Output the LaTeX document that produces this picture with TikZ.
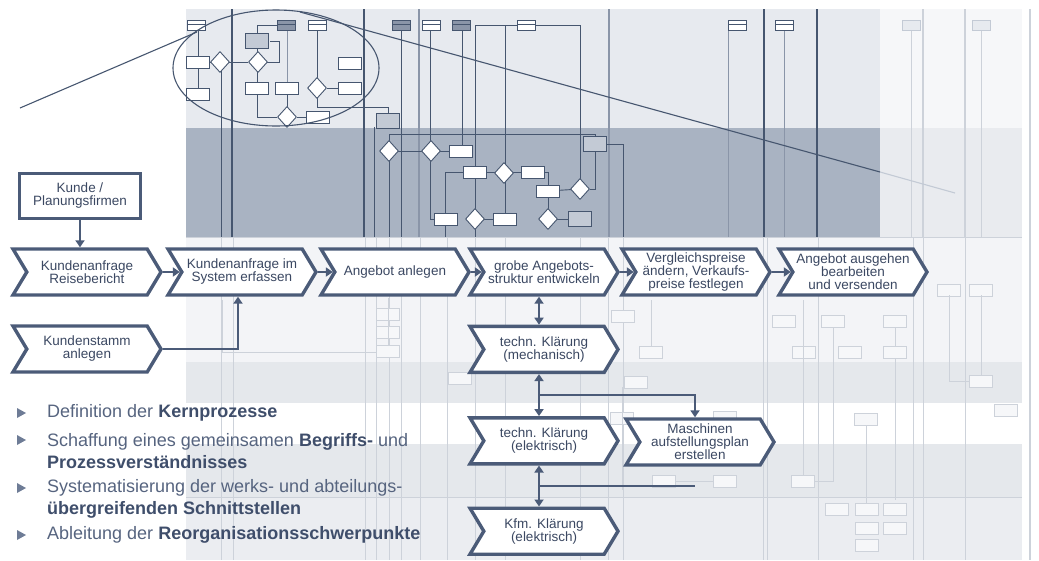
\documentclass[tikz,border=0pt]{standalone}
\usepackage{fontspec}
\setmainfont{Liberation Sans}
\usetikzlibrary{shapes.symbols,shapes.geometric,arrows.meta,positioning,calc}

\definecolor{chevline}{HTML}{4B5B78}
\definecolor{chevtext}{HTML}{3B4862}
\definecolor{bultext}{HTML}{56647F}
\definecolor{bulbold}{HTML}{3F4E6B}
\definecolor{bultri}{HTML}{6E7C96}
\definecolor{bgtop}{HTML}{E7EAEF}
\definecolor{bgdark}{HTML}{A9B3C2}
\definecolor{bgfar}{HTML}{F6F7F9}
\definecolor{bgfartwo}{HTML}{E9EBEF}
\definecolor{bglow}{HTML}{F3F4F7}
\definecolor{bgmid}{HTML}{E5E8EC}
\definecolor{bgpale}{HTML}{EBEDF1}
\definecolor{flowdark}{HTML}{46566F}
\definecolor{flowgray}{HTML}{8A95A8}
\definecolor{faint}{HTML}{CDD2DA}
\definecolor{boxgray}{HTML}{C3CAD5}

\newcommand{\chevfont}{\fontsize{13.5}{13}\selectfont}
\newcommand{\bulfont}{\fontsize{18}{22}\selectfont}
\newcommand{\kb}[1]{\textbf{\color{bulbold}#1}}

\begin{document}
\begin{tikzpicture}[x=1pt,y=-1pt,
    node distance=8pt,
    chev/.style={signal, signal from=west, signal to=east, signal pointer angle=118,
      draw=chevline, line width=3.4pt, fill=white, minimum width=148pt,
      minimum height=46pt, inner sep=1pt, align=center, text=chevtext, font=\chevfont},
    kbox/.style={rectangle, draw=chevline, line width=3.4pt, fill=white,
      minimum width=121pt, minimum height=45pt, align=center, text=chevtext, font=\chevfont},
    arr/.style={-{Triangle[length=7pt,width=9pt]}, draw=chevline, line width=1.8pt},
    dbl/.style={{Triangle[length=7pt,width=9pt]}-{Triangle[length=7pt,width=9pt]}, draw=chevline, line width=1.8pt},
    bul/.style={anchor=west, align=left, text=bultext, font=\bulfont, inner sep=0pt},
    sbox/.style={rectangle, draw=flowdark, line width=0.9pt, fill=white, minimum width=23pt, minimum height=12pt, inner sep=0pt},
    gbox/.style={sbox, fill=boxgray},
    sdia/.style={diamond, draw=flowdark, line width=0.9pt, fill=white, minimum width=19pt, minimum height=21pt, inner sep=0pt},
    fbox/.style={rectangle, draw=faint, line width=0.7pt, fill=bgfar, minimum width=23pt, minimum height=12pt, inner sep=0pt},
    fl/.style={draw=flowdark, line width=0.9pt},
    flg/.style={draw=flowgray, line width=0.8pt},
    fln/.style={draw=faint, line width=0.8pt},
    zoomline/.style={draw=flowdark, line width=1.1pt}
]
\useasboundingbox (0,0) rectangle (1039,560);

% background swimlane chart
\fill[bgtop] (186,9) rectangle (880,128);
\fill[bgdark] (186,128) rectangle (880,237);
\fill[bgfar] (880,9) rectangle (1022,128);
\fill[bgfartwo] (880,128) rectangle (1022,237);
\fill[bglow] (186,237) rectangle (1022,362);
\fill[bgmid] (186,362) rectangle (1022,403);
\fill[white] (186,403) rectangle (1022,444);
\fill[bgmid] (186,444) rectangle (1022,497);
\fill[bgpale] (186,497) rectangle (1022,560);
\draw[fln] (186,237) -- (1022,237);
\draw[fln] (186,497) -- (1022,497);
\draw[draw=faint, line width=1.6pt] (1030,9) -- (1030,560);

% lane separators
\foreach \x in {233,365,420,608,763,767,818,913,923,965}
  \draw[fln] (\x,237) -- (\x,560);
\foreach \x in {221,376,389,401,447,475,505,580,623}
  \draw[fln, line width=0.6pt] (\x,237) -- (\x,560);
\foreach \x in {232,364,764,817}
  \draw[draw=flowdark, line width=1.8pt] (\x,9) -- (\x,237);
\foreach \x in {419,609}
  \draw[draw=flowgray, line width=1.6pt] (\x,9) -- (\x,237);
\foreach \x in {923,965}
  \draw[draw=faint, line width=1.2pt] (\x,9) -- (\x,237);

% flow lines, upper lanes
\draw[fl] (198,25) -- (198,100);
\draw[fl] (209,62) -- (248,62);
\draw[fl] (221,62) -- (221,237);
\draw[fl] (278,25) -| (257,35);
\draw[fl] (257,47) -- (257,82);
\draw[fl] (267,62) -| (279,41) -- (270,41);
\draw[fl] (257,95) |- (277,117);
\draw[flg] (287,30) -- (287,82);
\draw[fl] (287,95) -- (287,107);
\draw[fl] (317,30) -- (317,78);
\draw[fl] (327,88) -- (338,88);
\draw[fl] (317,98) |- (388,107) -- (388,116);
\draw[fl] (297,117) -- (307,117);
\draw[fl] (401,30) -- (401,237);
\draw[fl] (374,127) -- (374,237);
\draw[fl] (389,141) |- (595,134) -- (595,137);
\draw[fl] (389,151) -- (461,151);
\draw[fl] (389,161) -- (389,237);
\draw[fl] (430,30) -- (430,141);
\draw[fl] (430,161) |- (435,219);
\draw[fl] (462,30) -- (462,145);
\draw[fl] (475,25) -- (580,25);
\draw[fl] (475,25) -- (475,237);
\draw[fl] (505,25) -- (505,213);
\draw[fl] (580,25) -- (580,179);
\draw[fl] (475,172) -- (533,172);
\draw[fl] (545,172) -| (548,185);
\draw[fl] (548,191) -- (580,189);
\draw[fl] (548,197) -- (548,219);
\draw[fl] (548,219) -- (580,219);
\draw[fl] (590,189) -| (595,152);
\draw[fl] (464,172) -| (445,237);
\draw[fl] (475,219) -- (505,219);
\draw[fl] (607,144) -| (623,237);
\draw[flg] (728,30) -- (728,237);
\draw[flg] (784,30) -- (784,237);
\draw[fln] (911,30) -- (911,237);
\draw[fln] (981,30) -- (981,237);

% header icons
\foreach \x/\c in {196/white,286/flowgray,317/white,401/flowgray,431/white,461/flowgray,526/white,737/white,784/white}
  \draw[fl, fill=\c] (\x-9,20) rectangle (\x+9,30) (\x-9,24) -- (\x+9,24);
\foreach \x in {911,981}
  \draw[draw=boxgray, fill=bgtop] (\x-9,20) rectangle (\x+9,30);

% small boxes and decisions
\foreach \x/\y [count=\i] in {198/62,198/94,257/88,287/88,350/88,350/63,318/117,461/151,475/172,533/172,548/191,446/219,505/219}
  \node[sbox] (sb\i) at (\x,\y) {};
\foreach \x/\y [count=\i] in {257/41,388/121,595/144,580/219}
  \node[gbox, minimum height=15pt] (gb\i) at (\x,\y) {};
\foreach \x/\y [count=\i] in {220/62,258/62,317/88,287/117,389/151,431/151,504/173,580/189,475/219,548/219}
  \node[sdia] (sd\i) at (\x,\y) {};

% faint boxes, lower lanes
\foreach \x/\y [count=\i] in {388/314,388/332,388/351,460/378,623/316,651/352,636/382,784/321,804/352,833/321,850/352,895/321,895/352,949/290,981/290,981/381,1006/410,866/419,803/481,664/481,725/481,725/417,622/418,837/509,867/509,895/509,867/528,895/528,867/545}
  \node[fbox] (fb\i) at (\x,\y) {};
\draw[fln] (388,298) -- (388,345);
\draw[fln] (222,300) |- (377,352);
\draw[fln] (651,300) -- (651,347);
\draw[fln] (895,327) -- (895,347);
\draw[fln] (895,358) -- (895,500);
\draw[fln] (949,295) |- (970,381);
\draw[fln] (981,295) -- (981,375);
\draw[fln] (866,425) -- (866,503);
\draw[fln] (803,300) -- (803,475);
\draw[fln] (814,481) -| (833,327);
\draw[fln] (622,387) -- (622,490);
\draw[fln] (675,481) -- (713,481);

% zoom ellipse
\draw[zoomline] (276,68) ellipse [x radius=103, y radius=58];
\draw[zoomline] (20,108) -- (197,32);
\draw[zoomline] (300,12) -- (880,172);
\draw[draw=boxgray, line width=1.1pt] (880,172) -- (955,193);

% main process chain
\node[chev] (anfrage) at (87,272) {Kundenanfrage\\Reisebericht};
\node[chev] (erfassen) at (242,272) {Kundenanfrage im\\System erfassen};
\node[chev] (anlegen) at (395,272) {Angebot anlegen};
\node[chev] (grobe) at (544,272) {grobe Angebots-\\struktur entwickeln};
\node[chev] (preise) at (696,272) {Vergleichspreise\\ändern, Verkaufs-\\preise festlegen};
\node[chev] (versand) at (853,272) {Angebot ausgehen\\bearbeiten\\und versenden};

\node[kbox] (kunde) at (80,196) {Kunde /\\Planungsfirmen};
\node[chev] (stamm) at (87,349) {Kundenstamm\\anlegen};

\node[chev, below=28pt of grobe] (mech) {techn. Klärung\\(mechanisch)};
\node[chev, below=42pt of mech] (elek) {techn. Klärung\\(elektrisch)};
\node[chev, below=41pt of elek] (kfm) {Kfm. Klärung\\(elektrisch)};
\node[chev] (masch) at (700,442) {Maschinen\\aufstellungsplan\\erstellen};

\draw[arr] (kunde) -- (kunde.south |- anfrage.north);
\draw[arr] (anfrage) -- (erfassen);
\draw[arr] (erfassen) -- (anlegen);
\draw[arr] (anlegen) -- (grobe);
\draw[arr] (grobe) -- (preise);
\draw[arr] (preise) -- (versand);
\draw[arr] (stamm.east) -| ([xshift=-4pt]erfassen.south);

\draw[dbl] ([xshift=-5pt]grobe.south) -- ([xshift=-5pt]mech.north);
\draw[dbl] ([xshift=-5pt]mech.south) -- ([xshift=-5pt]elek.north);
\draw[dbl] ([xshift=-5pt]elek.south) -- ([xshift=-5pt]kfm.north);
\coordinate (m1) at ($([xshift=-5pt]mech.south)!0.5!([xshift=-5pt]elek.north)$);
\coordinate (m2) at ($([xshift=-5pt]elek.south)!0.5!([xshift=-5pt]kfm.north)$);
\coordinate (mend) at ([xshift=-5pt]masch.south |- m2);
\draw[arr] (m1) -| ([xshift=-5pt]masch.north);
\draw[draw=chevline, line width=1.8pt] (m2) -- (mend);

% bullet list
\foreach \y in {413,440,488,535}
  \fill[bultri] (17,\y-5) -- (26,\y) -- (17,\y+5) -- cycle;
\node[bul] (b1) at (47,413) {Definition der \kb{Kernprozesse}};
\node[bul] (b2) at (47,451) {Schaffung eines gemeinsamen \kb{Begriffs-} und\\\kb{Prozessverständnisses}};
\node[bul] (b3) at (47,499) {Systematisierung der werks- und abteilungs-\\\kb{übergreifenden Schnittstellen}};
\node[bul] (b4) at (47,535) {Ableitung der \kb{Reorganisationsschwerpunkte}};
\end{tikzpicture}
\end{document}
